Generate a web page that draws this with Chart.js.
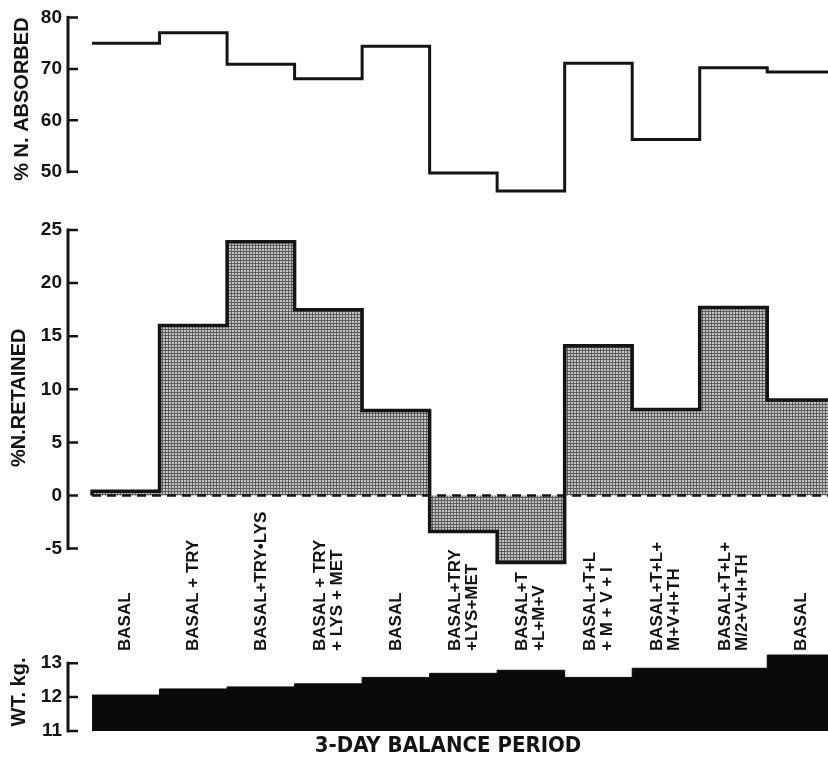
<!DOCTYPE html>
<html>
<head>
<meta charset="utf-8">
<script src="https://cdn.jsdelivr.net/npm/chart.js@4.4.1/dist/chart.umd.min.js"></script>
<style>
  body { margin: 0; background: #fff; }
  #wrap { position: relative; width: 828px; height: 765px; overflow: hidden; }
  canvas { position: absolute; left: 0; }
  #absChart { top: 0; }
  #retChart { top: 200px; }
  #wtChart { top: 495px; }
</style>
</head>
<body>
<div id="wrap">
  <canvas id="absChart" width="828" height="215"></canvas>
  <canvas id="retChart" width="828" height="383"></canvas>
  <canvas id="wtChart" width="828" height="270"></canvas>
</div>
<script>
// one entry per 3-day balance period
const periods = [
  "BASAL",
  "BASAL + TRY",
  "BASAL+TRY•LYS",
  ["BASAL + TRY", "+ LYS + MET"],
  "BASAL",
  ["BASAL+TRY", "+LYS+MET"],
  ["BASAL+T", "+L+M+V"],
  ["BASAL+T+L", "+ M + V + I"],
  ["BASAL+T+L+", "M+V+I+TH"],
  ["BASAL+T+L+", "M/2+V+I+TH"],
  "BASAL"
];

const absorbed = [75.0, 77.0, 70.9, 68.1, 74.4, 49.8, 46.3, 71.1, 56.3, 70.2, 69.4];
const retained = [0.4, 16.0, 23.9, 17.5, 8.0, -3.4, -6.3, 14.1, 8.1, 17.7, 9.0];
const weight = [12.06, 12.24, 12.3, 12.39, 12.58, 12.7, 12.79, 12.58, 12.85, 12.85, 13.24];

const absTicks = [50, 60, 70, 80];
const retTicks = [-5, 0, 5, 10, 15, 20, 25];
const wtTicks = [11, 12, 13];

const ink = "#141414";
const tickFont = { family: "'Liberation Sans', Arial, sans-serif", size: 19, weight: "bold" };
const titleFont = { family: "'Liberation Sans', Arial, sans-serif", size: 20, weight: "bold" };

// step points: value held across each period, last one carried to the end
function steps(values, startAtZero) {
  const pts = values.map((v, i) => ({ x: i, y: v }));
  pts.push({ x: values.length, y: values[values.length - 1] });
  if (startAtZero) pts.unshift({ x: 0, y: 0 });
  return pts;
}

function makeStipple() {
  const c = document.createElement("canvas");
  c.width = 3; c.height = 3;
  const g = c.getContext("2d");
  g.fillStyle = "#c4c4c4"; g.fillRect(0, 0, 3, 3);
  g.fillStyle = "#5e5e5e"; g.fillRect(0, 0, 3, 1); g.fillRect(0, 0, 1, 3);
  return g.createPattern(c, "repeat");
}

// axis drawn as a bracket: line between first and last tick, ticks pointing inward
const bracketAxis = {
  id: "bracketAxis",
  afterDraw(chart, args, opts) {
    const s = chart.scales.y;
    const ctx = chart.ctx;
    const vals = opts.ticks;
    const top = s.getPixelForValue(vals[vals.length - 1]);
    const bot = s.getPixelForValue(vals[0]);
    const x = chart.chartArea.left;
    ctx.save();
    ctx.strokeStyle = ink;
    ctx.lineWidth = 3;
    ctx.setLineDash([]);
    ctx.beginPath();
    ctx.moveTo(x, top - 1.5);
    ctx.lineTo(x, bot + 1.5);
    ctx.stroke();
    ctx.lineWidth = 2.5;
    ctx.beginPath();
    vals.forEach(v => {
      const y = s.getPixelForValue(v);
      ctx.moveTo(x, y);
      ctx.lineTo(x + 10, y);
    });
    ctx.stroke();
    ctx.restore();
  }
};

// period names, rotated, standing on top of the weight panel
const periodLabels = {
  id: "periodLabels",
  afterDraw(chart) {
    const xs = chart.scales.x;
    const ctx = chart.ctx;
    const base = chart.chartArea.top - 2;
    ctx.save();
    ctx.fillStyle = ink;
    ctx.font = "bold 17px 'Liberation Sans', Arial, sans-serif";
    ctx.textAlign = "left";
    ctx.textBaseline = "middle";
    periods.forEach((lab, i) => {
      const lines = Array.isArray(lab) ? lab : [lab];
      const cx = xs.getPixelForValue(i + 0.5);
      lines.forEach((line, j) => {
        const off = (j - (lines.length - 1) / 2) * 17;
        ctx.save();
        ctx.translate(cx + off, base);
        ctx.rotate(-Math.PI / 2);
        ctx.fillText(line, 0, 0);
        ctx.restore();
      });
    });
    ctx.restore();
  }
};

function xScale(show) {
  return {
    type: "linear",
    min: -0.356,
    max: 10.9,
    display: show,
    grid: { display: false, drawTicks: false },
    border: { display: false },
    ticks: { display: false }
  };
}

function yScale(min, max, ticks, title, titlePad, align, font) {
  return {
    min: min,
    max: max,
    afterBuildTicks: s => { s.ticks = ticks.map(v => ({ value: v })); },
    afterFit: s => { s.width = 68; },
    grid: { display: false, drawTicks: false },
    border: { display: false },
    ticks: { color: ink, padding: 6, font: font || tickFont },
    title: {
      display: true,
      text: title,
      color: ink,
      font: titleFont,
      align: align,
      padding: { top: titlePad, bottom: 0 }
    }
  };
}

function baseOptions(ticks) {
  return {
    responsive: false,
    animation: false,
    devicePixelRatio: 1,
    plugins: {
      legend: { display: false },
      tooltip: { enabled: false },
      bracketAxis: { ticks: ticks }
    }
  };
}

new Chart(document.getElementById("absChart").getContext("2d"), {
  type: "line",
  data: {
    datasets: [{
      data: steps(absorbed),
      stepped: true,
      borderColor: ink,
      borderWidth: 3,
      pointRadius: 0,
      fill: false
    }]
  },
  options: Object.assign(baseOptions(absTicks), {
    layout: { padding: { top: 14, bottom: 12, left: 0, right: 0 } },
    scales: {
      x: xScale(false),
      y: yScale(45, 80, absTicks, "% N. ABSORBED", 10, "end")
    }
  }),
  plugins: [bracketAxis]
});

new Chart(document.getElementById("retChart").getContext("2d"), {
  type: "line",
  data: {
    datasets: [
      {
        // zero reference line
        data: [{ x: 0, y: 0 }, { x: periods.length, y: 0 }],
        borderColor: ink,
        borderWidth: 2.5,
        borderDash: [9, 6],
        pointRadius: 0,
        fill: false
      },
      {
        data: steps(retained, true),
        stepped: true,
        borderColor: ink,
        borderWidth: 3.5,
        borderJoinStyle: "miter",
        backgroundColor: makeStipple(),
        pointRadius: 0,
        fill: "origin"
      }
    ]
  },
  options: Object.assign(baseOptions(retTicks), {
    layout: { padding: { top: 30, bottom: 12, left: 0, right: 0 } },
    scales: {
      x: xScale(false),
      y: yScale(-6.6, 25, retTicks, "%N.RETAINED", 7, "center")
    }
  }),
  plugins: [bracketAxis]
});

const wtX = xScale(true);
wtX.afterFit = s => { s.height = 34; };
wtX.title = {
  display: true,
  text: "3-DAY BALANCE PERIOD",
  color: ink,
  font: { family: "'DejaVu Sans Condensed', 'Liberation Sans Narrow', sans-serif", size: 22, weight: "bold" },
  padding: { top: 0, bottom: 6 }
};

new Chart(document.getElementById("wtChart").getContext("2d"), {
  type: "line",
  data: {
    datasets: [{
      data: steps(weight),
      stepped: true,
      borderColor: "#0a0a0a",
      borderWidth: 1,
      backgroundColor: "#0a0a0a",
      pointRadius: 0,
      fill: "start"
    }]
  },
  options: Object.assign(baseOptions(wtTicks), {
    layout: { padding: { top: 158, bottom: 0, left: 0, right: 0 } },
    scales: {
      x: wtX,
      y: yScale(11, 13.3, wtTicks, "WT. kg.", 7, "center",
        { family: "'Liberation Sans Narrow', 'Liberation Sans', sans-serif", size: 19, weight: "bold" })
    }
  }),
  plugins: [bracketAxis, periodLabels]
});
</script>
</body>
</html>
